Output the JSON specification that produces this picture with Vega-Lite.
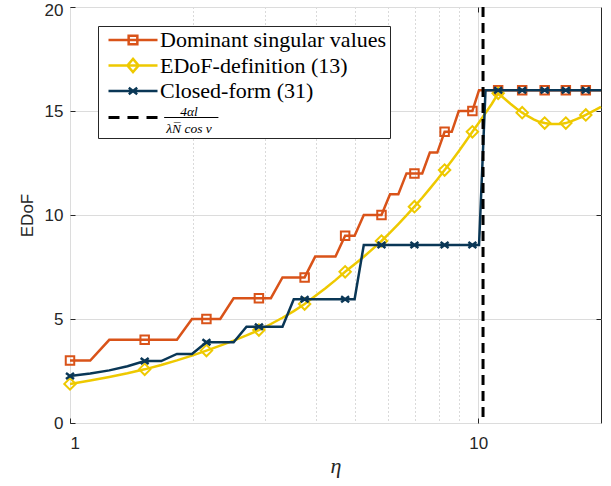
{
  "$schema": "https://vega.github.io/schema/vega-lite/v6.json",
  "width": 531,
  "height": 416,
  "autosize": {"type": "none"},
  "padding": {"left": 70, "top": 7, "right": 10, "bottom": 63},
  "background": "white",
  "config": {
    "view": {"stroke": "#262626", "strokeWidth": 1},
    "axis": {
      "labelFont": "Liberation Sans",
      "labelFontSize": 17,
      "labelColor": "#262626",
      "titleColor": "#262626",
      "titleFontWeight": "normal",
      "tickColor": "#262626",
      "domain": false,
      "ticks": false
    }
  },
  "datasets": {
    "curves": [
      {"k": 0, "eta": 1.000, "dominant": 3, "edof_def": 1.88, "closed": 2.26},
      {"k": 1, "eta": 1.121, "dominant": 3, "edof_def": 2.04, "closed": 2.38},
      {"k": 2, "eta": 1.248, "dominant": 4, "edof_def": 2.21, "closed": 2.53},
      {"k": 3, "eta": 1.383, "dominant": 4, "edof_def": 2.39, "closed": 2.73},
      {"k": 4, "eta": 1.524, "dominant": 4, "edof_def": 2.58, "closed": 2.98},
      {"k": 5, "eta": 1.673, "dominant": 4, "edof_def": 2.79, "closed": 2.98},
      {"k": 6, "eta": 1.828, "dominant": 4, "edof_def": 3.01, "closed": 3.32},
      {"k": 7, "eta": 1.990, "dominant": 5, "edof_def": 3.24, "closed": 3.32},
      {"k": 8, "eta": 2.159, "dominant": 5, "edof_def": 3.48, "closed": 3.88},
      {"k": 9, "eta": 2.334, "dominant": 5, "edof_def": 3.72, "closed": 3.88},
      {"k": 10, "eta": 2.517, "dominant": 6, "edof_def": 3.96, "closed": 3.88},
      {"k": 11, "eta": 2.707, "dominant": 6, "edof_def": 4.21, "closed": 4.63},
      {"k": 12, "eta": 2.903, "dominant": 6, "edof_def": 4.47, "closed": 4.63},
      {"k": 13, "eta": 3.106, "dominant": 6, "edof_def": 4.76, "closed": 4.63},
      {"k": 14, "eta": 3.316, "dominant": 7, "edof_def": 5.06, "closed": 4.63},
      {"k": 15, "eta": 3.534, "dominant": 7, "edof_def": 5.38, "closed": 5.95},
      {"k": 16, "eta": 3.757, "dominant": 7, "edof_def": 5.72, "closed": 5.95},
      {"k": 17, "eta": 3.988, "dominant": 8, "edof_def": 6.10, "closed": 5.95},
      {"k": 18, "eta": 4.226, "dominant": 8, "edof_def": 6.48, "closed": 5.95},
      {"k": 19, "eta": 4.471, "dominant": 8, "edof_def": 6.87, "closed": 5.95},
      {"k": 20, "eta": 4.722, "dominant": 9, "edof_def": 7.27, "closed": 5.95},
      {"k": 21, "eta": 4.981, "dominant": 9, "edof_def": 7.63, "closed": 5.95},
      {"k": 22, "eta": 5.246, "dominant": 10, "edof_def": 7.99, "closed": 8.56},
      {"k": 23, "eta": 5.518, "dominant": 10, "edof_def": 8.37, "closed": 8.56},
      {"k": 24, "eta": 5.797, "dominant": 10, "edof_def": 8.75, "closed": 8.56},
      {"k": 25, "eta": 6.083, "dominant": 11, "edof_def": 9.15, "closed": 8.56},
      {"k": 26, "eta": 6.375, "dominant": 11, "edof_def": 9.56, "closed": 8.56},
      {"k": 27, "eta": 6.675, "dominant": 12, "edof_def": 9.98, "closed": 8.56},
      {"k": 28, "eta": 6.981, "dominant": 12, "edof_def": 10.40, "closed": 8.56},
      {"k": 29, "eta": 7.295, "dominant": 12, "edof_def": 10.83, "closed": 8.56},
      {"k": 30, "eta": 7.615, "dominant": 13, "edof_def": 11.27, "closed": 8.56},
      {"k": 31, "eta": 7.942, "dominant": 13, "edof_def": 11.71, "closed": 8.56},
      {"k": 32, "eta": 8.276, "dominant": 14, "edof_def": 12.16, "closed": 8.56},
      {"k": 33, "eta": 8.617, "dominant": 14, "edof_def": 12.61, "closed": 8.56},
      {"k": 34, "eta": 8.965, "dominant": 15, "edof_def": 13.07, "closed": 8.56},
      {"k": 35, "eta": 9.320, "dominant": 15, "edof_def": 13.53, "closed": 8.56},
      {"k": 36, "eta": 9.681, "dominant": 15, "edof_def": 14.00, "closed": 8.56},
      {"k": 37, "eta": 10.050, "dominant": 16, "edof_def": 14.45, "closed": 8.56},
      {"k": 38, "eta": 10.425, "dominant": 16, "edof_def": 14.90, "closed": 16},
      {"k": 39, "eta": 10.807, "dominant": 16, "edof_def": 15.35, "closed": 16},
      {"k": 40, "eta": 11.196, "dominant": 16, "edof_def": 15.85, "closed": 16},
      {"k": 41, "eta": 11.592, "dominant": 16, "edof_def": 15.60, "closed": 16},
      {"k": 42, "eta": 11.994, "dominant": 16, "edof_def": 15.35, "closed": 16},
      {"k": 43, "eta": 12.405, "dominant": 16, "edof_def": 15.12, "closed": 16},
      {"k": 44, "eta": 12.821, "dominant": 16, "edof_def": 14.92, "closed": 16},
      {"k": 45, "eta": 13.245, "dominant": 16, "edof_def": 14.75, "closed": 16},
      {"k": 46, "eta": 13.675, "dominant": 16, "edof_def": 14.60, "closed": 16},
      {"k": 47, "eta": 14.112, "dominant": 16, "edof_def": 14.48, "closed": 16},
      {"k": 48, "eta": 14.556, "dominant": 16, "edof_def": 14.42, "closed": 16},
      {"k": 49, "eta": 15.007, "dominant": 16, "edof_def": 14.38, "closed": 16},
      {"k": 50, "eta": 15.465, "dominant": 16, "edof_def": 14.37, "closed": 16},
      {"k": 51, "eta": 15.930, "dominant": 16, "edof_def": 14.38, "closed": 16},
      {"k": 52, "eta": 16.401, "dominant": 16, "edof_def": 14.42, "closed": 16},
      {"k": 53, "eta": 16.880, "dominant": 16, "edof_def": 14.50, "closed": 16},
      {"k": 54, "eta": 17.365, "dominant": 16, "edof_def": 14.60, "closed": 16},
      {"k": 55, "eta": 17.857, "dominant": 16, "edof_def": 14.70, "closed": 16},
      {"k": 56, "eta": 18.356, "dominant": 16, "edof_def": 14.81, "closed": 16},
      {"k": 57, "eta": 18.863, "dominant": 16, "edof_def": 14.93, "closed": 16},
      {"k": 58, "eta": 19.375, "dominant": 16, "edof_def": 15.05, "closed": 16},
      {"k": 59, "eta": 20.000, "dominant": 16, "edof_def": 15.20, "closed": 16}
    ],
    "bound": [{"eta": 10.28, "series": "bound"}]
  },
  "data": {"name": "curves"},
  "transform": [
    {"fold": ["dominant", "edof_def", "closed"], "as": ["series", "edof"]}
  ],
  "encoding": {
    "x": {"field": "eta", "type": "quantitative", "scale": {"type": "log", "domain": [1, 20], "nice": false}},
    "y": {"field": "edof", "type": "quantitative", "scale": {"domain": [0, 20], "nice": false}},
    "color": {
      "field": "series",
      "type": "nominal",
      "scale": {
        "domain": ["dominant", "edof_def", "closed", "bound"],
        "range": ["#D95319", "#EEC900", "#0A3756", "#000000"]
      }
    }
  },
  "layer": [
    {
      "transform": [{"filter": "datum.series === 'dominant'"}],
      "mark": {"type": "line", "strokeWidth": 2.5},
      "encoding": {
        "x": {
          "field": "eta", "type": "quantitative",
          "axis": {
            "values": [1, 10], "format": "d",
            "grid": true, "gridColor": "#dcdcdc", "gridWidth": 1,
            "ticks": true, "tickSize": -5, "tickWidth": 1,
            "labelPadding": 17,
            "title": "η", "titleFont": "Liberation Serif", "titleFontStyle": "italic",
            "titleFontSize": 22, "titlePadding": 4
          }
        },
        "y": {
          "field": "edof", "type": "quantitative",
          "axis": {
            "values": [0, 5, 10, 15, 20],
            "grid": true, "gridColor": "#dcdcdc", "gridWidth": 1,
            "ticks": true, "tickSize": -5, "tickWidth": 1,
            "labelPadding": 12,
            "labelOffset": {"condition": {"test": "datum.value === 20", "value": 3}, "value": 0},
            "title": "EDoF", "titleFont": "Liberation Sans", "titleFontSize": 17,
            "titlePadding": 8
          }
        },
        "color": {
          "field": "series", "type": "nominal",
          "legend": {
            "title": null,
            "orient": "none",
            "legendX": 28,
            "legendY": 19,
            "direction": "vertical",
            "fillColor": "white",
            "strokeColor": "#262626",
            "padding": 3,
            "rowPadding": 2.5,
            "labelFont": "Liberation Serif",
            "labelFontSize": 22,
            "labelColor": "#000000",
            "labelLimit": 400,
            "symbolSize": 196,
            "symbolStrokeWidth": 2.5,
            "symbolOffset": 21,
            "labelOffset": 16,
            "labelExpr": "datum.value === 'dominant' ? 'Dominant singular values' : datum.value === 'edof_def' ? 'EDoF-definition (13)' : datum.value === 'closed' ? 'Closed-form (31)' : ['4αl', 'λN̅ cos ν']",
            "encode": {
              "symbols": {
                "update": {
                  "shape": {"signal": "datum.value === 'dominant' ? 'M-3.5,0H3.5M-0.62,-0.62H0.62V0.62H-0.62Z' : datum.value === 'edof_def' ? 'M-3.5,0H3.5M0,-0.95L0.8,0L0,0.95L-0.8,0Z' : datum.value === 'closed' ? 'M-3.5,0H3.5M-0.6,-0.45L0.6,0.45M-0.6,0.45L0.6,-0.45' : 'M-3.5,-0.2H-1.93V0.2H-3.5Z M-0.79,-0.2H0.79V0.2H-0.79Z M1.93,-0.2H3.5V0.2H1.93Z M4.45,-0.07H12.2V0.07H4.45Z'"},
                  "fill": {"signal": "datum.value === 'bound' ? '#000000' : 'transparent'"},
                  "strokeWidth": {"signal": "datum.value === 'bound' ? 0 : 2.5"},
                  "opacity": {"value": 1}
                }
              },
              "labels": {
                "update": {
                  "fontSize": {"signal": "datum.value === 'bound' ? 13.5 : 22"},
                  "fontStyle": {"signal": "datum.value === 'bound' ? 'italic' : 'normal'"},
                  "lineHeight": {"signal": "datum.value === 'bound' ? 17 : 22"},
                  "align": {"signal": "datum.value === 'bound' ? 'center' : 'left'"},
                  "dx": {"signal": "datum.value === 'bound' ? 29 : 0"},
                  "dy": {"signal": "datum.value === 'bound' ? -6 : 0"}
                }
              }
            }
          }
        }
      }
    },
    {
      "transform": [{"filter": "datum.series === 'dominant' && datum.k % 4 === 0"}],
      "mark": {"type": "point", "shape": "square", "size": 72, "filled": false, "strokeWidth": 2, "opacity": 1},
      "encoding": {
        "x": {"field": "eta", "type": "quantitative", "axis": null},
        "y": {
          "field": "edof", "type": "quantitative",
          "axis": {
            "orient": "right", "values": [5, 10, 15],
            "grid": false, "labels": false, "title": null,
            "ticks": true, "tickSize": -5, "tickWidth": 1
          }
        }
      }
    },
    {
      "transform": [{"filter": "datum.series === 'edof_def'"}],
      "mark": {"type": "line", "strokeWidth": 2.5},
      "encoding": {
        "x": {
          "field": "eta", "type": "quantitative",
          "axis": {
            "orient": "top", "values": [10],
            "grid": false, "labels": false, "title": null,
            "ticks": true, "tickSize": -5, "tickWidth": 1
          }
        },
        "y": {"field": "edof", "type": "quantitative", "axis": null}
      }
    },
    {
      "transform": [{"filter": "datum.series === 'edof_def' && datum.k % 4 === 0"}],
      "mark": {"type": "point", "shape": "diamond", "size": 130, "filled": false, "strokeWidth": 2, "opacity": 1},
      "encoding": {
        "x": {"field": "eta", "type": "quantitative", "axis": null},
        "y": {"field": "edof", "type": "quantitative", "axis": null}
      }
    },
    {
      "transform": [{"filter": "datum.series === 'closed'"}],
      "mark": {"type": "line", "strokeWidth": 2.5},
      "encoding": {
        "x": {"field": "eta", "type": "quantitative", "axis": null},
        "y": {"field": "edof", "type": "quantitative", "axis": null}
      }
    },
    {
      "transform": [{"filter": "datum.series === 'closed' && datum.k % 4 === 0"}],
      "mark": {"type": "point", "shape": "M-1,-0.75L1,0.75M-1,0.75L1,-0.75", "size": 64, "filled": false, "strokeWidth": 2.5, "opacity": 1},
      "encoding": {
        "x": {"field": "eta", "type": "quantitative", "axis": null},
        "y": {"field": "edof", "type": "quantitative", "axis": null}
      }
    },
    {
      "data": {"name": "bound"},
      "mark": {"type": "rule", "strokeDash": [10, 6], "strokeWidth": 3},
      "encoding": {
        "x": {
          "field": "eta", "type": "quantitative",
          "axis": {
            "orient": "top", "values": [2, 3, 4, 5, 6, 7, 8, 9],
            "grid": true, "gridDash": [1, 3], "gridColor": "#b4b4b4", "gridWidth": 1,
            "labels": false, "title": null
          }
        },
        "y": null
      }
    }
  ],
  "resolve": {"axis": {"x": "independent", "y": "independent"}}
}
